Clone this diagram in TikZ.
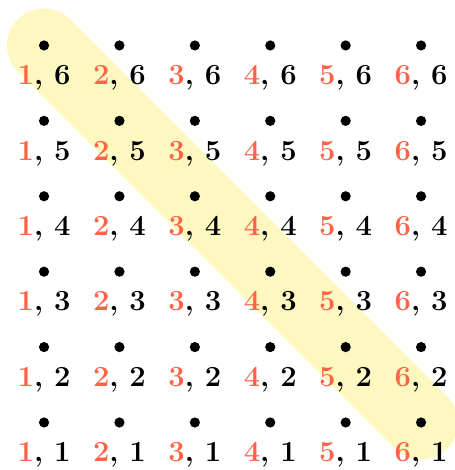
\documentclass[tikz,border=0pt]{standalone}
\definecolor{numred}{RGB}{255,99,71}
\definecolor{bandyellow}{RGB}{253,248,192}
\tikzset{
  dotnode/.style={circle,fill=black,inner sep=0pt,minimum size=0.135cm},
  pairlabel/.style={anchor=base,inner sep=0pt,font=\fontsize{11}{13}\selectfont\bfseries},
  band/.style={line width=0.98cm,line cap=round,draw=bandyellow}
}
\begin{document}
\begin{tikzpicture}
\useasboundingbox (0,0) rectangle (6.034,6.233);
\foreach \i in {1,...,6}{
  \foreach \j in {1,...,6}{
    \coordinate (c\i\j) at ({\i-0.416},{\j-0.37});
  }
}
\draw[band] (c16) -- (c61);
\foreach \i in {1,...,6}{
  \foreach \j in {1,...,6}{
    \node[dotnode] (d\i\j) at (c\i\j) {};
    \node[pairlabel] (l\i\j) at ([yshift=-0.52cm]c\i\j) {\textcolor{numred}{\i}, \j};
  }
}
\end{tikzpicture}
\end{document}
